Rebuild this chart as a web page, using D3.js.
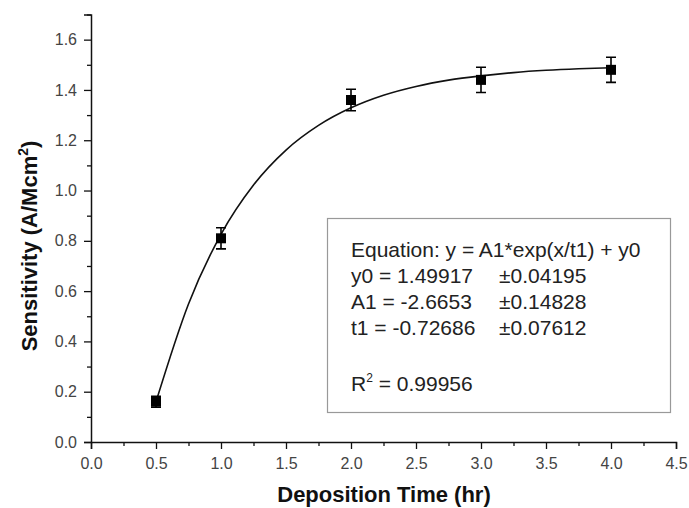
<!DOCTYPE html>
<html>
<head>
<meta charset="utf-8">
<script src="https://cdn.jsdelivr.net/npm/d3@7"></script>
<style>
  body { margin: 0; background: #fff; }
  svg { display: block; font-family: "Liberation Sans", Arial, sans-serif; }
</style>
</head>
<body>
<script>
// measured points
const times = [0.5, 1.0, 2.0, 3.0, 4.0];
const sensitivity = [0.16, 0.81, 1.36, 1.44, 1.48];
const errors = [0.022, 0.042, 0.043, 0.05, 0.05];

// fitted curve
const fitX = [0.5, 0.75, 1.0, 1.25, 1.5, 1.75, 2.0, 2.25, 2.5, 2.75, 3.0, 3.25, 3.5, 3.75, 4.0];
const fitY = [0.160, 0.549, 0.826, 1.022, 1.161, 1.259, 1.329, 1.379, 1.414, 1.439, 1.456, 1.469, 1.478, 1.484, 1.488];

const xTicks = [0, 0.5, 1, 1.5, 2, 2.5, 3, 3.5, 4, 4.5];
const yTicks = [0, 0.2, 0.4, 0.6, 0.8, 1.0, 1.2, 1.4, 1.6];

const fitLines = [
    "Equation: y = A1*exp(x/t1) + y0",
    "y0 = 1.49917",
    "A1 = -2.6653",
    "t1 = -0.72686"
];
const fitErrors = ["", "\u00b10.04195", "\u00b10.14828", "\u00b10.07612"];

const width = 689, height = 508;
const svg = d3.select("body").append("svg")
    .attr("width", width)
    .attr("height", height);

const x = d3.scaleLinear().domain([0, 4.5]).range([91, 676]);
const y = d3.scaleLinear().domain([0, 1.7]).range([442, 14.5]);

// axes
svg.append("g")
    .attr("transform", `translate(0,${y(0)})`)
    .call(d3.axisBottom(x).tickValues(xTicks).tickFormat(d3.format(".1f")).tickSize(7).tickPadding(9));
svg.append("g")
    .attr("transform", `translate(${x(0)},0)`)
    .call(d3.axisLeft(y).tickValues(yTicks).tickFormat(d3.format(".1f")).tickSize(7).tickPadding(7));

// minor ticks
svg.append("g")
    .attr("transform", `translate(0,${y(0)})`)
    .call(d3.axisBottom(x).tickValues(d3.range(0.25, 4.5, 0.5)).tickFormat("").tickSize(4))
    .select(".domain").remove();
svg.append("g")
    .attr("transform", `translate(${x(0)},0)`)
    .call(d3.axisLeft(y).tickValues(d3.range(0.1, 1.75, 0.2)).tickFormat("").tickSize(4))
    .select(".domain").remove();

svg.selectAll(".domain").attr("stroke", "#111").attr("stroke-width", 1.5);
svg.selectAll(".tick line").attr("stroke", "#111").attr("stroke-width", 1.3);
svg.selectAll(".tick text")
    .style("font-size", "16px")
    .attr("fill", "#444");

// axis titles
svg.append("text")
    .attr("x", 384)
    .attr("y", 502)
    .attr("text-anchor", "middle")
    .style("font-size", "22px")
    .style("font-weight", "bold")
    .attr("fill", "#111")
    .text("Deposition Time (hr)");

const yt = svg.append("text")
    .attr("transform", "translate(37,246) rotate(-90)")
    .attr("text-anchor", "middle")
    .style("font-size", "22px")
    .style("font-weight", "bold")
    .attr("fill", "#111");
yt.append("tspan").text("Sensitivity (A/Mcm");
yt.append("tspan").attr("dy", -9).style("font-size", "14px").text("2");
yt.append("tspan").attr("dy", 9).text(")");

// fit curve
const fitData = fitX.map((d, i) => [d, fitY[i]]);
svg.append("path")
    .datum(fitData)
    .attr("fill", "none")
    .attr("stroke", "#111")
    .attr("stroke-width", 1.6)
    .attr("d", d3.line().x(d => x(d[0])).y(d => y(d[1])).curve(d3.curveMonotoneX));

// error bars and markers
const pts = times.map((t, i) => ({t, v: sensitivity[i], e: errors[i]}));
const g = svg.append("g");
g.selectAll(".err").data(pts).enter().append("path")
    .attr("fill", "none")
    .attr("stroke", "#000")
    .attr("stroke-width", 1.6)
    .attr("d", d => {
        const cx = x(d.t), top = y(d.v + d.e), bot = y(d.v - d.e);
        return `M${cx - 5},${top}H${cx + 5}M${cx},${top}V${bot}M${cx - 5},${bot}H${cx + 5}`;
    });
g.selectAll(".pt").data(pts).enter().append("rect")
    .attr("x", d => x(d.t) - 5)
    .attr("y", d => y(d.v) - 5)
    .attr("width", 10)
    .attr("height", 10)
    .attr("fill", "#000");

// fit info box
svg.append("rect")
    .attr("x", 327.5)
    .attr("y", 218.5)
    .attr("width", 343)
    .attr("height", 194)
    .attr("fill", "#fff")
    .attr("stroke", "#999")
    .attr("stroke-width", 1.2);

const info = svg.append("g")
    .style("font-size", "21px")
    .attr("fill", "#222");
info.selectAll(".ln").data(fitLines).enter().append("text")
    .attr("x", 351)
    .attr("y", (d, i) => 257 + i * 26)
    .text(d => d);
info.selectAll(".er").data(fitErrors).enter().append("text")
    .attr("x", 499)
    .attr("y", (d, i) => 257 + i * 26)
    .text(d => d);
const r2 = info.append("text").attr("x", 351).attr("y", 391);
r2.append("tspan").text("R");
r2.append("tspan").attr("dy", -9).style("font-size", "12px").text("2");
r2.append("tspan").attr("dy", 9).text(" = 0.99956");
</script>
</body>
</html>
